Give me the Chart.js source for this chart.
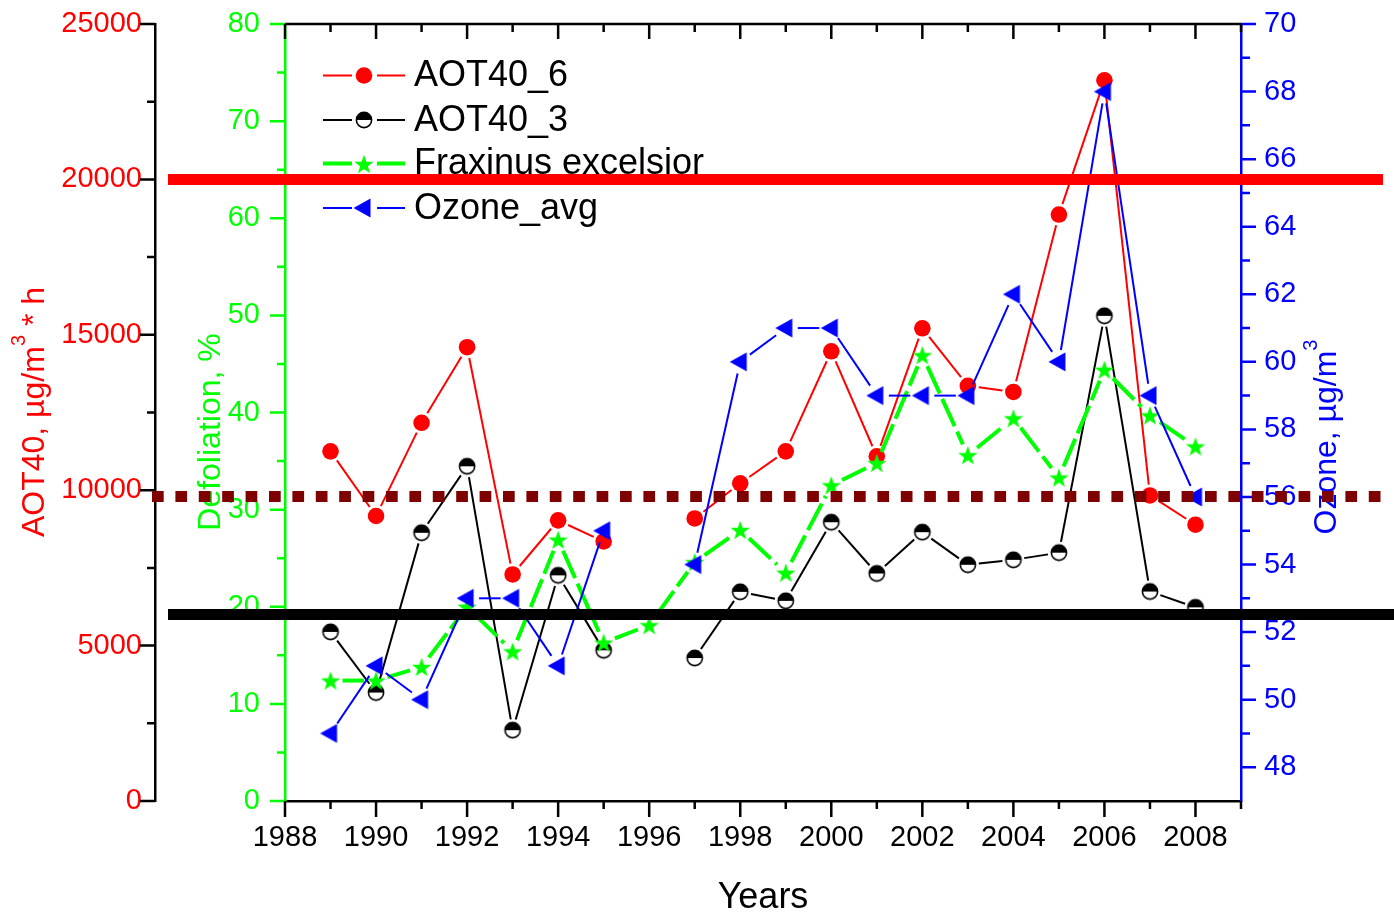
<!DOCTYPE html>
<html>
<head>
<meta charset="utf-8">
<script src="https://cdn.jsdelivr.net/npm/chart.js@4.4.1/dist/chart.umd.min.js"></script>
<style>
html,body{margin:0;padding:0;background:#fff;}
canvas{display:block;}
</style>
</head>
<body>
<canvas id="c" width="1394" height="922"></canvas>
<script>
// ---------------- data ----------------
const years      = [1989,1990,1991,1992,1993,1994,1995,1996,1997,1998,1999,2000,2001,2002,2003,2004,2005,2006,2007,2008];
const aot40_6    = [11250,9170,12170,14600,7290,9030,8350,null,9090,10220,11250,14470,11090,15210,13360,13160,18870,23190,9830,8890];
const aot40_3    = [5440,3490,8630,10770,2280,7260,4850,null,4600,6730,6440,8970,7320,8650,7600,7760,7990,15610,6740,6230];
const fraxinus   = [12.4,12.4,13.8,20.0,15.4,26.9,16.3,18.1,24.6,27.9,23.5,32.5,34.8,45.9,35.6,39.4,33.3,44.4,39.7,36.5];
const ozoneAvg   = [49,51,50,53,53,51,55,null,54,60,61,61,59,59,59,62,60,68,59,56];
const seriesNames = ['AOT40_6','AOT40_3','Fraxinus excelsior','Ozone_avg'];

const xTicks        = [1988,1990,1992,1994,1996,1998,2000,2002,2004,2006,2008];
const xMinorTicks   = [1989,1991,1993,1995,1997,1999,2001,2003,2005,2007,2009];
const aotTicks      = [0,5000,10000,15000,20000,25000];
const aotMinorTicks = [2500,7500,12500,17500,22500];
const defTicks      = [0,10,20,30,40,50,60,70,80];
const defMinorTicks = [5,15,25,35,45,55,65,75];
const ozTicks       = [48,50,52,54,56,58,60,62,64,66,68,70];
const ozMinorTicks  = [49,51,53,55,57,59,61,63,65,67,69];
const refLevels     = [20000, 9800, 6000];   // AOT40 reference levels

// ---------------- styles ----------------
const FONT = "'Liberation Sans', Arial, Helvetica, sans-serif";
const RED = '#ff0000', GREEN = '#00ff00', BLUE = '#0000ff', BLACK = '#000000', MAROON = '#7f0000';

function makeMarker(size, draw) {
  const c = document.createElement('canvas');
  c.width = size; c.height = size;
  draw(c.getContext('2d'), size / 2);
  return c;
}
const halfCircleImg = makeMarker(20, (g, m) => {
  const r = 7.6;
  g.beginPath(); g.arc(m, m, r, Math.PI, 2 * Math.PI); g.closePath(); g.fillStyle = '#000'; g.fill();
  g.beginPath(); g.arc(m, m, r, 0, Math.PI); g.closePath(); g.fillStyle = '#fff'; g.fill();
  g.beginPath(); g.arc(m, m, r, 0, 2 * Math.PI); g.lineWidth = 1.6; g.strokeStyle = '#000'; g.stroke();
});
const starImg = makeMarker(24, (g, m) => {
  const R = 10.2, r = 4.1;
  g.beginPath();
  for (let i = 0; i < 10; i++) {
    const a = -Math.PI / 2 + i * Math.PI / 5;
    const rr = i % 2 ? r : R;
    const px = m + rr * Math.cos(a), py = m + 1 + rr * Math.sin(a);
    if (i) g.lineTo(px, py); else g.moveTo(px, py);
  }
  g.closePath(); g.fillStyle = GREEN; g.fill();
});
const triImg = makeMarker(24, (g, m) => {
  g.beginPath(); g.moveTo(m - 10.5, m); g.lineTo(m + 6.5, m - 9.5); g.lineTo(m + 6.5, m + 9.5);
  g.closePath(); g.fillStyle = BLUE; g.fill();
});

// line segments leave a gap next to each symbol (Origin style)
function gapDash(c, gap, pattern) {
  const a = c.p0, b = c.p1;
  const L = Math.hypot(b.x - a.x, b.y - a.y);
  const vis = L - 2 * gap;
  if (vis <= 0) return [0, L + 2000];
  const arr = [0, gap];
  if (!pattern) { arr.push(vis, gap + 2000); return arr; }
  let rem = vis, i = 0;
  while (rem > 0.01) { const d = Math.min(pattern[i % 2], rem); arr.push(d); rem -= d; i++; }
  if (arr.length % 2 === 1) arr.push(gap + 2000); else arr.push(0, gap + 2000);
  return arr;
}
const uniqOffset = c => c.p0DataIndex * 1e-4;
const pts = arr => years.map((y, i) => ({x: y, y: arr[i]}));

const datasets = [
  { label: seriesNames[0], data: pts(aot40_6), yAxisID: 'yAOT', order: 4,
    borderColor: RED, borderWidth: 2, pointStyle: 'circle', pointRadius: 8.3,
    pointBackgroundColor: RED, pointBorderWidth: 0,
    segment: { borderDash: c => gapDash(c, 11), borderDashOffset: uniqOffset } },
  { label: seriesNames[1], data: pts(aot40_3), yAxisID: 'yAOT', order: 3,
    borderColor: BLACK, borderWidth: 2, pointStyle: halfCircleImg, pointRadius: 8,
    segment: { borderDash: c => gapDash(c, 11), borderDashOffset: uniqOffset } },
  { label: seriesNames[2], data: pts(fraxinus), yAxisID: 'yDef', order: 2,
    borderColor: GREEN, borderWidth: 4, pointStyle: starImg, pointRadius: 9,
    segment: { borderDash: c => gapDash(c, 12, [30, 6]), borderDashOffset: uniqOffset } },
  { label: seriesNames[3], data: pts(ozoneAvg), yAxisID: 'yOz', order: 1,
    borderColor: BLUE, borderWidth: 2, pointStyle: triImg, pointRadius: 9,
    segment: { borderDash: c => gapDash(c, 12), borderDashOffset: uniqOffset } }
];
datasets.forEach(d => { d.fill = false; d.tension = 0; d.spanGaps = false; d.clip = false; });

const setTicks = arr => s => { s.ticks = arr.map(v => ({value: v})); };
const fitV = w => s => { s.width = w; s.paddingTop = 0; s.paddingBottom = 0; };
const tickFont = {family: FONT, size: 29};

function drawTickSet(ctx, scale, values, base, dir, len, color, w) {
  ctx.save();
  ctx.strokeStyle = color; ctx.lineWidth = w; ctx.lineCap = 'butt';
  ctx.beginPath();
  values.forEach(v => {
    const p = scale.getPixelForValue(v);
    if (scale.isHorizontal()) { ctx.moveTo(p, base); ctx.lineTo(p, base + dir * len); }
    else { ctx.moveTo(base, p); ctx.lineTo(base + dir * len, p); }
  });
  ctx.stroke();
  ctx.restore();
}

function drawRotatedTitle(ctx, parts, xBase, yCenter, color) {
  ctx.save();
  ctx.fillStyle = color;
  ctx.translate(xBase, yCenter);
  ctx.rotate(-Math.PI / 2);
  ctx.textAlign = 'left'; ctx.textBaseline = 'alphabetic';
  let total = 0;
  parts.forEach(p => { ctx.font = p.size + 'px ' + FONT; p.w = ctx.measureText(p.text).width; total += p.w; });
  let x = -total / 2;
  parts.forEach(p => { ctx.font = p.size + 'px ' + FONT; ctx.fillText(p.text, x, -(p.rise || 0)); x += p.w; });
  ctx.restore();
}

const decor = {
  id: 'decor',
  beforeDatasetsDraw(chart) {
    const ctx = chart.ctx, s = chart.scales, ca = chart.chartArea;
    drawTickSet(ctx, s.yAOT, aotTicks, s.yAOT.right, -1, 15, BLACK, 2.5);
    drawTickSet(ctx, s.yAOT, aotMinorTicks, s.yAOT.right, -1, 8, BLACK, 2.5);
    drawTickSet(ctx, s.yDef, defTicks, s.yDef.right, -1, 15, GREEN, 2.5);
    drawTickSet(ctx, s.yDef, defMinorTicks, s.yDef.right, -1, 8, GREEN, 2.5);
    drawTickSet(ctx, s.yOz, ozTicks, s.yOz.left, 1, 15, BLUE, 2.5);
    drawTickSet(ctx, s.yOz, ozMinorTicks, s.yOz.left, 1, 9, BLUE, 2.5);
    drawTickSet(ctx, s.x, xTicks, s.x.top, 1, 16, BLACK, 2.5);
    drawTickSet(ctx, s.x, xMinorTicks, s.x.top, 1, 8, BLACK, 2.5);
    // top frame with inward ticks
    ctx.save();
    ctx.strokeStyle = BLACK; ctx.lineWidth = 2.5;
    ctx.beginPath(); ctx.moveTo(ca.left, ca.top); ctx.lineTo(ca.right, ca.top); ctx.stroke();
    ctx.restore();
    drawTickSet(ctx, s.x, xTicks, ca.top, 1, 15, BLACK, 2.5);
    drawTickSet(ctx, s.x, xMinorTicks, ca.top, 1, 8, BLACK, 2.5);
  },
  afterDraw(chart) {
    const ctx = chart.ctx, s = chart.scales, ca = chart.chartArea;
    // axis titles
    drawRotatedTitle(ctx, [
      {text: 'AOT40, \u00b5g/m', size: 32},
      {text: '3', size: 20, rise: 19},
      {text: ' * h', size: 32}
    ], s.yAOT.left + 44, 412, RED);
    drawRotatedTitle(ctx, [{text: 'Defoliation, %', size: 32}], s.yDef.left + 65, 432, GREEN);
    drawRotatedTitle(ctx, [
      {text: 'Ozone, \u00b5g/m', size: 32},
      {text: '3', size: 20, rise: 19}
    ], s.yOz.left + 95, 437, BLUE);
    ctx.save();
    ctx.fillStyle = BLACK; ctx.font = '36px ' + FONT;
    ctx.textAlign = 'center'; ctx.textBaseline = 'alphabetic';
    ctx.fillText('Years', (ca.left + ca.right) / 2, 908);
    ctx.restore();

    // legend
    const rows = [75.5, 120, 163.5, 208];
    chart.data.datasets.forEach((d, i) => {
      const y = rows[i];
      ctx.save();
      ctx.strokeStyle = d.borderColor; ctx.lineWidth = d.borderWidth;
      ctx.beginPath();
      ctx.moveTo(323, y); ctx.lineTo(352, y);
      ctx.moveTo(377, y); ctx.lineTo(405, y);
      ctx.stroke();
      const ps = d.pointStyle;
      if (ps === 'circle') {
        ctx.fillStyle = d.pointBackgroundColor;
        ctx.beginPath(); ctx.arc(364, y, d.pointRadius, 0, 2 * Math.PI); ctx.fill();
      } else {
        ctx.drawImage(ps, Math.round(364 - ps.width / 2), Math.round(y - ps.height / 2));
      }
      ctx.fillStyle = BLACK; ctx.font = '36px ' + FONT;
      ctx.textAlign = 'left'; ctx.textBaseline = 'middle';
      ctx.fillText(d.label, 414, y + 1);
      ctx.restore();
    });

    // reference levels
    const refStyles = [
      {color: RED, x0: 168, x1: 1383, dash: []},
      {color: MAROON, x0: 152, x1: 1386, dash: [11.7, 11.7]},
      {color: BLACK, x0: 168, x1: 1394, dash: []}
    ];
    refLevels.forEach((v, i) => {
      const st = refStyles[i];
      const y = s.yAOT.getPixelForValue(v);
      ctx.save();
      ctx.strokeStyle = st.color; ctx.lineWidth = 11; ctx.setLineDash(st.dash);
      ctx.beginPath(); ctx.moveTo(st.x0, y); ctx.lineTo(st.x1, y); ctx.stroke();
      ctx.restore();
    });
  }
};

new Chart(document.getElementById('c'), {
  type: 'line',
  data: { datasets },
  options: {
    responsive: false,
    animation: false,
    events: [],
    devicePixelRatio: 1,
    layout: { padding: { left: 0, right: 0, top: 24, bottom: 0 } },
    plugins: { legend: { display: false }, tooltip: { enabled: false }, title: { display: false } },
    scales: {
      x: {
        type: 'linear', position: 'bottom', min: 1988, max: 2009,
        afterBuildTicks: setTicks(xTicks),
        afterFit: s => { s.height = 121; s.paddingLeft = 0; s.paddingRight = 0; },
        grid: { display: true, drawOnChartArea: false, drawTicks: false },
        border: { display: true, color: BLACK, width: 2.5 },
        ticks: { color: BLACK, font: tickFont, padding: 20, maxRotation: 0, autoSkip: false, callback: v => String(v) }
      },
      yAOT: {
        type: 'linear', position: 'left', weight: 1, min: 0, max: 25000,
        afterBuildTicks: setTicks(aotTicks),
        afterFit: fitV(155),
        grid: { display: true, drawOnChartArea: false, drawTicks: false },
        border: { display: true, color: BLACK, width: 2.5 },
        ticks: { color: RED, font: tickFont, padding: 13, autoSkip: false, callback: v => String(v) }
      },
      yDef: {
        type: 'linear', position: 'left', weight: 0, min: 0, max: 80,
        afterBuildTicks: setTicks(defTicks),
        afterFit: fitV(130),
        grid: { display: true, drawOnChartArea: false, drawTicks: false },
        border: { display: true, color: GREEN, width: 2.5 },
        ticks: { color: GREEN, font: tickFont, padding: 25, autoSkip: false, callback: v => String(v) }
      },
      yOz: {
        type: 'linear', position: 'right', min: 47, max: 70,
        afterBuildTicks: setTicks(ozTicks),
        afterFit: fitV(153),
        grid: { display: true, drawOnChartArea: false, drawTicks: false },
        border: { display: true, color: BLUE, width: 2.5 },
        ticks: { color: BLUE, font: tickFont, padding: 23, autoSkip: false, callback: v => String(v) }
      }
    }
  },
  plugins: [decor]
});
</script>
</body>
</html>
